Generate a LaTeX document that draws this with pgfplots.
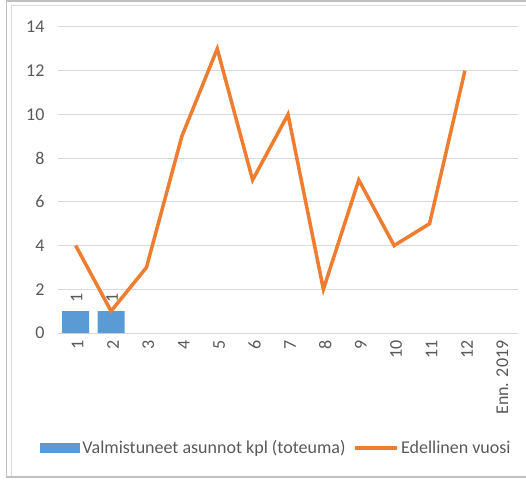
\documentclass[border=0pt]{standalone}
\usepackage{pgfplots}
\pgfplotsset{compat=1.18}
\usepackage{fontspec}
\setmainfont{Carlito}
\definecolor{barblue}{HTML}{5B9BD5}
\definecolor{lineorange}{HTML}{ED7D31}
\definecolor{txtgray}{HTML}{595959}
\definecolor{gridgray}{HTML}{D9D9D9}
\definecolor{framegray}{HTML}{BFBFBF}
\begin{document}
\begin{tikzpicture}[x=1pt,y=1pt]
\useasboundingbox (0,0) rectangle (526,479);
\draw[framegray, line width=1.5pt] (6.5,2) rectangle (540,478);
\draw[gridgray, line width=1pt] (11,3) -- (11,473) -- (540,473);
\begin{axis}[
  at={(58pt,146pt)}, anchor=south west,
  scale only axis, width=460pt, height=306pt,
  xmin=-0.5, xmax=12.5, ymin=0, ymax=14,
  xtick={0,1,2,3,4,5,6,7,8,9,10,11,12},
  xticklabels={1,2,3,4,5,6,7,8,9,10,11,12,Enn. 2019},
  ytick={0,2,4,6,8,10,12,14},
  axis line style={draw=none},
  major tick length=0pt,
  ymajorgrids,
  grid style={gridgray, line width=1pt},
  tick label style={font=\fontsize{18}{21}\selectfont, text=txtgray},
  /pgf/number format/assume math mode=true,
  yticklabel style={anchor=east, xshift=-10pt},
  xticklabel style={rotate=90, anchor=east, xshift=-4pt, yshift=-2pt},
  legend columns=2,
  legend style={at={(0.475,-0.376)}, anchor=center, draw=none, fill=none,
    font=\fontsize{18}{21}\selectfont, text=txtgray,
    /tikz/every even column/.append style={column sep=6pt}},
  clip=false,
]
\addplot[ybar, bar width=27pt, fill=barblue, draw=none,
  nodes near coords,
  every node near coord/.append style={rotate=90, anchor=west, font=\fontsize{18}{21}\selectfont, text=txtgray, xshift=5pt, yshift=-1pt},
  legend image code/.code={\fill[barblue] (0pt,-5pt) rectangle (40pt,5pt);}]
  coordinates {(0,1) (1,1)};
\addlegendentry{Valmistuneet asunnot kpl (toteuma)}
\addplot[lineorange, line width=3.5pt, mark=none,
  legend image code/.code={\draw[lineorange, line width=3.5pt] (0pt,0pt) -- (42pt,0pt);}]
  coordinates {(0,4) (1,1) (2,3) (3,9) (4,13) (5,7) (6,10) (7,2) (8,7) (9,4) (10,5) (11,12)};
\addlegendentry{Edellinen vuosi}
\end{axis}
\end{tikzpicture}
\end{document}
